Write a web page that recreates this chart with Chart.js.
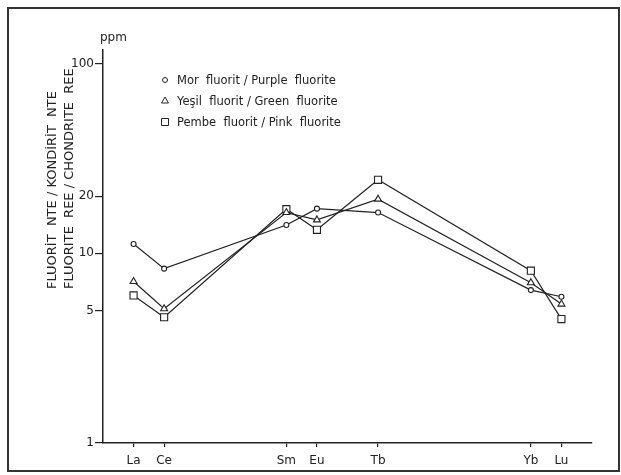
<!DOCTYPE html>
<html>
<head>
<meta charset="utf-8">
<script src="https://cdn.jsdelivr.net/npm/chart.js@4"></script>
<style>
  html, body { margin: 0; padding: 0; background: #fff; }
  #wrap { width: 621px; height: 475px; }
</style>
</head>
<body>
<div id="wrap"><canvas id="reeChart" width="621" height="475"></canvas></div>
<script>
// --- Data ---
const elements = ['La', 'Ce', 'Sm', 'Eu', 'Tb', 'Yb', 'Lu'];
const atomicNumbers = [57, 58, 62, 63, 65, 70, 71];
const purpleFluorite = [11.2, 8.3, 14.1, 17.2, 16.4, 6.4, 5.9];
const greenFluorite = [7.1, 5.1, 16.4, 15.0, 19.3, 7.0, 5.4];
const pinkFluorite = [6.0, 4.6, 17.1, 13.3, 24.4, 8.1, 4.5];
const yTickValues = [1, 5, 10, 20, 100];
const legendLabels = [
    'Mor  fluorit / Purple  fluorite',
    'Yeşil  fluorit / Green  fluorite',
    'Pembe  fluorit / Pink  fluorite'
];
const yTitleLines = ['FLUORİT  NTE / KONDİRİT  NTE', 'FLUORITE  REE / CHONDRITE  REE'];

const ink = '#222';
const font = '"DejaVu Sans", sans-serif';

const toPoints = (values) => values.map((v, i) => ({ x: atomicNumbers[i], y: v }));

const makeDataset = (label, values, style, radius) => ({
    label,
    data: toPoints(values),
    borderColor: ink,
    borderWidth: 1.2,
    pointStyle: style,
    pointRadius: radius,
    pointBorderWidth: 1.1,
    pointBorderColor: ink,
    pointBackgroundColor: '#fff',
    tension: 0
});

// --- Marker helper for the hand-made legend ---
const drawMarker = (ctx, style, x, y, r) => {
    ctx.beginPath();
    if (style === 'circle') {
        ctx.arc(x, y, r, 0, Math.PI * 2);
    } else if (style === 'triangle') {
        ctx.moveTo(x, y - r);
        ctx.lineTo(x + r * 0.87, y + r * 0.5);
        ctx.lineTo(x - r * 0.87, y + r * 0.5);
        ctx.closePath();
    } else {
        ctx.rect(x - r, y - r, 2 * r, 2 * r);
    }
    ctx.fillStyle = '#fff';
    ctx.fill();
    ctx.stroke();
};

// --- Extra drawing: frame, ppm, axis title, legend ---
const decorPlugin = {
    id: 'decor',
    afterDraw(chart) {
        const ctx = chart.ctx;
        ctx.save();
        ctx.strokeStyle = '#333';
        ctx.lineWidth = 2;
        ctx.strokeRect(8, 8, 611, 463);

        ctx.fillStyle = ink;
        ctx.font = '12px ' + font;
        ctx.textAlign = 'left';
        ctx.textBaseline = 'alphabetic';
        ctx.fillText('ppm', 100, 41);

        // rotated y title, two lines
        ctx.font = '13px ' + font;
        const titleX = [53, 70];
        yTitleLines.forEach((line, i) => {
            ctx.save();
            ctx.translate(titleX[i], 289);
            ctx.rotate(-Math.PI / 2);
            ctx.textAlign = 'left';
            ctx.textBaseline = 'middle';
            ctx.fillText(line, 0, 0);
            ctx.restore();
        });

        // legend
        const styles = ['circle', 'triangle', 'rect'];
        const sizes = [2.5, 4, 3.5];
        const rows = [80, 101, 122];
        ctx.lineWidth = 1;
        ctx.strokeStyle = ink;
        ctx.font = '11.5px ' + font;
        ctx.textBaseline = 'middle';
        legendLabels.forEach((txt, i) => {
            drawMarker(ctx, styles[i], 165, rows[i], sizes[i]);
            ctx.fillStyle = ink;
            ctx.fillText(txt, 177, rows[i] + 1);
        });
        ctx.restore();
    }
};

const ctx = document.getElementById('reeChart').getContext('2d');
new Chart(ctx, {
    type: 'line',
    data: {
        datasets: [
            makeDataset('Purple fluorite', purpleFluorite, 'circle', 2.5),
            makeDataset('Green fluorite', greenFluorite, 'triangle', 4),
            makeDataset('Pink fluorite', pinkFluorite, 'rect', 5)
        ]
    },
    options: {
        responsive: false,
        animation: false,
        layout: { padding: { top: 50, right: 29, left: 0, bottom: 0 } },
        plugins: { legend: { display: false }, tooltip: { enabled: false } },
        scales: {
            x: {
                type: 'linear',
                min: 56,
                max: 72,
                afterBuildTicks: (scale) => { scale.ticks = atomicNumbers.map(v => ({ value: v })); },
                afterFit: (scale) => { scale.height = 32; },
                grid: { display: true, drawOnChartArea: false, tickLength: 4, color: ink, lineWidth: 1.2 },
                border: { display: true, color: ink, width: 1.5 },
                ticks: {
                    autoSkip: false,
                    maxRotation: 0,
                    padding: 7,
                    color: ink,
                    font: { family: font, size: 12 },
                    callback: (v) => elements[atomicNumbers.indexOf(v)] || ''
                }
            },
            y: {
                type: 'logarithmic',
                min: 1,
                max: 118,
                afterBuildTicks: (scale) => { scale.ticks = yTickValues.map(v => ({ value: v })); },
                afterFit: (scale) => { scale.width = 103; },
                grid: { display: true, drawOnChartArea: false, tickLength: 8, color: ink, lineWidth: 1.2 },
                border: { display: true, color: ink, width: 1.5 },
                ticks: {
                    padding: 1,
                    color: ink,
                    font: { family: font, size: 12 },
                    callback: (v) => String(v)
                }
            }
        }
    },
    plugins: [decorPlugin]
});
</script>
</body>
</html>
